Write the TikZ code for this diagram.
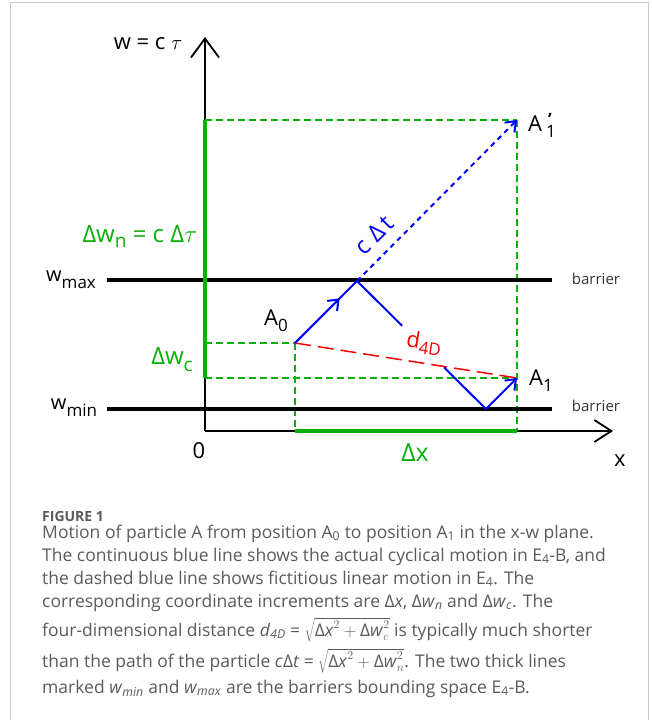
\documentclass[tikz,border=0pt]{standalone}
\usepackage{fontspec}
\setmainfont{Open Sans}
\usetikzlibrary{arrows.meta,calc}
\definecolor{fgreen}{RGB}{10,175,10}
\definecolor{capgray}{RGB}{90,90,90}
\definecolor{framegray}{RGB}{200,200,200}
\newcommand\lsub[3][5pt]{\raisebox{-#1}{\fontsize{#2}{#2}\selectfont #3}}
\newcommand\capfont{\fontsize{17.5}{20}\selectfont}
\begin{document}
\begin{tikzpicture}[x=1pt,y=-1pt,
  axis/.style={line width=1.8pt},
  barline/.style={line width=4pt},
  gthick/.style={fgreen,line width=3.5pt},
  gdash/.style={fgreen,line width=2.5pt,dash pattern=on 7pt off 4pt},
  bsolid/.style={blue,line width=2pt},
  bdash/.style={blue,line width=2pt,dash pattern=on 5pt off 4.5pt},
  rdash/.style={red,line width=1.5pt,dash pattern=on 16pt off 7pt},
  lbl/.style={inner sep=0pt,font=\fontsize{22}{22}\selectfont},
  glbl/.style={inner sep=0pt,fgreen,font=\fontsize{24}{24}\selectfont},
  captext/.style={anchor=base west,inner sep=0pt,capgray,font=\capfont},
  barlbl/.style={inner sep=0pt,black!80,font=\fontsize{15}{15}\selectfont}
]
\useasboundingbox (0,0) rectangle (652,720);
\draw[framegray,line width=1pt] (10,720) -- (10,2.5) -- (648.5,2.5) -- (648.5,720);

% coordinates
\coordinate (O) at (205,431);
\coordinate (Ytop) at (205,37);
\coordinate (Xtip) at (613,431);
\coordinate (A0) at (295,343);
\coordinate (P) at (357,281);
\coordinate (A1) at (517,378);
\coordinate (A1p) at (517,120);
\coordinate (B) at (486,409);
\coordinate (Wn) at (205,120);
\coordinate (Wc) at (205,378);
\coordinate (Wa) at (205,343);
\coordinate (X0) at (295,431);
\coordinate (X1) at (517,431);
\coordinate (BmaxL) at (107,280);
\coordinate (BmaxR) at (552,280);
\coordinate (BminL) at (107,409);
\coordinate (BminR) at (552,409);

% axes
\draw[axis,-{Straight Barb[length=19pt,width=28pt]}] (O) -- (Ytop);
\draw[axis,-{Straight Barb[length=17pt,width=22pt]}] (O) -- (Xtip);

% green dashed
\draw[gdash] (Wn) -- (A1p);
\draw[gdash] (Wa) -- (A0);
\draw[gdash] (Wc) -- (A1);
\draw[gdash] (A0) -- (X0);
\draw[gdash] (A1p) -- (X1);

% barriers
\draw[barline] (BmaxL) -- (BmaxR);
\draw[barline] (BminL) -- (BminR);

% green thick increments
\draw[gthick] (Wn) -- (Wc);
\draw[gthick] (X0) -- (X1);

% red distance
\draw[rdash] (A0) -- (A1);

% blue motion
\draw[bsolid] (A0) -- (P) -- ($(P)!0.35!(B)$);
\draw[bsolid,-{Straight Barb[length=9pt,width=14pt]}] (A0) -- ($(A0)!0.72!(P)$);
\draw[bsolid,-{Straight Barb[length=9pt,width=14pt]}] ($(P)!0.675!(B)$) -- (B) -- (A1);
\draw[bdash,-{Straight Barb[length=9pt,width=14pt]}] (P) -- (A1p);

% labels
\node[lbl,font=\fontsize{22}{22}\selectfont] (lw) at (148,44) {w = c $\tau$};
\node[glbl] (ldwn) at (140,236) {Δw\lsub[5pt]{19}{n} = c Δ$\tau$};
\node[lbl,font=\fontsize{20}{20}\selectfont] (lwmax) at (71,280) {w\lsub[7pt]{17}{max}};
\node[glbl] (ldwc) at (172,360) {Δw\lsub[7pt]{19}{c}};
\node[lbl,font=\fontsize{20}{20}\selectfont] (lwmin) at (74,408) {w\lsub[7pt]{17}{min}};
\node[lbl] (l0) at (199,451) {0};
\node[lbl] (lA0) at (276,321) {A\lsub[6pt]{17}{0}};
\node[lbl] (lA1) at (541,381) {A\lsub[6pt]{17}{1}};
\node[lbl,anchor=west] (lA1p) at (528,124) {A};
\node[inner sep=0pt,font=\fontsize{17}{17}\selectfont] (lA1ps) at (551,131) {1};
\node[inner sep=0pt,font=\fontsize{17}{17}\selectfont\bfseries] (lA1pp) at (550,119) {'};
\node[glbl,font=\fontsize{25}{25}\selectfont] (ldx) at (415,453) {Δx};
\node[lbl] (lx) at (620,461) {x};
\node[inner sep=0pt,blue,rotate=45,font=\fontsize{24}{24}\selectfont] (lct) at (374,235) {c\hspace{7pt}Δ\hspace{3pt}t};
\node[inner sep=0pt,red,rotate=-9,font=\fontsize{22}{22}\selectfont] (ld) at (424,343) {d\lsub[5pt]{17}{4D}};
\node[barlbl] (lbar1) at (596,279) {barrier};
\node[barlbl] (lbar2) at (596,406) {barrier};

% caption
\node[captext,font=\fontsize{14}{14}\selectfont\bfseries] (c0) at (42,521) {FIGURE 1};
\node[captext] (c1) at (42,538) {Motion of particle A from position A\textsubscript{0} to position A\textsubscript{1} in the x-w plane.};
\node[captext] (c2) at (42,561) {The continuous blue line shows the actual cyclical motion in E\textsubscript{4}-B, and};
\node[captext] (c3) at (42,584) {the dashed blue line shows fictitious linear motion in E\textsubscript{4}. The};
\node[captext] (c4) at (42,607) {corresponding coordinate increments are Δ\textit{x}, Δ\textit{w}\textsubscript{\textit{n}} and Δ\textit{w}\textsubscript{\textit{c}}. The};
\node[captext] (c5) at (42,636) {four-dimensional distance \textit{d}\textsubscript{\textit{4D}} = $\sqrt{\mbox{Δ\textit{x}}^2+\mbox{Δ\textit{w}}^2_{c}}$ is typically much shorter};
\node[captext] (c6) at (42,667) {than the path of the particle \textit{c}Δ\textit{t} = $\sqrt{\mbox{Δ\textit{x}}^2+\mbox{Δ\textit{w}}^2_{n}}$. The two thick lines};
\node[captext] (c7) at (42,693) {marked \textit{w}\textsubscript{\textit{min}} and \textit{w}\textsubscript{\textit{max}} are the barriers bounding space E\textsubscript{4}-B.};
\end{tikzpicture}
\end{document}
